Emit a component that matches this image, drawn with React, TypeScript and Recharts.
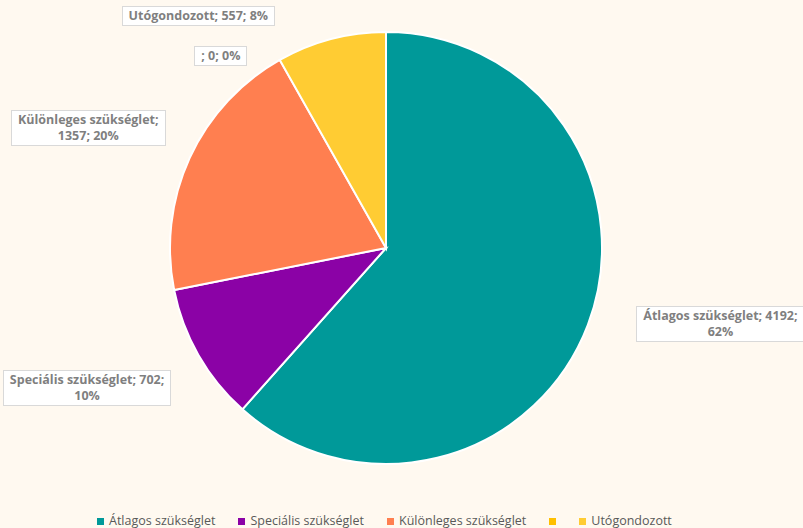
import React from 'react';
import { PieChart, Pie, Cell } from 'recharts';

const categories = ['Átlagos szükséglet', 'Speciális szükséglet', 'Különleges szükséglet', '', 'Utógondozott'];
const values = [4192, 702, 1357, 0, 557];
const sliceColors = ['#009999', '#8B02A6', '#FF7F50', '#FFC000', '#FFCC33'];

// Excel "best fit" label placement: angle shift (deg) and extra radius from the pie edge
const labelShift = [8, -4.7, 2.7, 11.3, 24.3];
const labelGap = [127, 114, 105, 37, 82];

const RAD = Math.PI / 180;
const FONT = '"Open Sans", "DejaVu Sans", sans-serif';
const WRAP_CHARS = 26;

const data = categories.map((name, i) => ({ name, value: values[i] }));

// wrap on spaces like Excel does for data labels
const wrap = (text: string) => {
  const words = text.split(' ');
  const lines: string[] = [];
  let cur = '';
  words.forEach(w => {
    const next = cur ? `${cur} ${w}` : w;
    if (next.length > WRAP_CHARS && cur) {
      lines.push(cur);
      cur = w;
    } else {
      cur = next;
    }
  });
  if (cur) lines.push(cur);
  return lines;
};

const renderLabel = (props: any) => {
  const { cx, cy, midAngle, outerRadius, index, value, percent } = props;
  const a = (midAngle + labelShift[index]) * RAD;
  const r = outerRadius + labelGap[index];
  const x = cx + r * Math.cos(a);
  const y = cy - r * Math.sin(a);
  const lines = wrap(`${categories[index]}; ${value}; ${Math.round(percent * 100)}%`);
  return (
    <foreignObject x={x - 110} y={y - 30} width={220} height={60}>
      <div
        style={{
          width: 220,
          height: 60,
          display: 'flex',
          alignItems: 'center',
          justifyContent: 'center',
        }}
      >
        <div
          style={{
            background: '#fff',
            border: '1px solid #D9D9D9',
            padding: '1px 6px',
            fontFamily: FONT,
            fontWeight: 700,
            fontSize: 12.5,
            lineHeight: '16px',
            color: '#7F7F7F',
            textAlign: 'center',
            whiteSpace: 'nowrap',
          }}
        >
          {lines.map((l, i) => (
            <div key={i}>{l}</div>
          ))}
        </div>
      </div>
    </foreignObject>
  );
};

const App: React.FC = () => {
  return (
    <div style={{ position: 'fixed', left: 0, top: 0, width: 803, height: 528, background: '#FFF9F0', overflow: 'hidden' }}>
      <PieChart width={803} height={528} margin={{ top: 0, right: 0, bottom: 0, left: 0 }}>
        <Pie
          data={data}
          dataKey="value"
          cx={386}
          cy={248}
          outerRadius={216}
          startAngle={90}
          endAngle={-270}
          stroke="#fff"
          strokeWidth={2}
          label={renderLabel}
          labelLine={false}
          isAnimationActive={false}
        >
          {data.map((d, i) => (
            <Cell key={`cell-${i}`} fill={sliceColors[i]} />
          ))}
        </Pie>
      </PieChart>
      <div
        style={{
          position: 'absolute',
          left: 97,
          top: 513,
          display: 'flex',
          alignItems: 'center',
          fontFamily: FONT,
          fontSize: 12.5,
          lineHeight: '16px',
          color: '#595959',
          whiteSpace: 'nowrap',
        }}
      >
        {categories.map((c, i) => (
          <div key={i} style={{ display: 'flex', alignItems: 'center', marginRight: 23 }}>
            <span style={{ width: 7, height: 7, background: sliceColors[i], display: 'inline-block', marginRight: c ? 5 : 0 }} />
            <span>{c}</span>
          </div>
        ))}
      </div>
    </div>
  );
};

export default App;
